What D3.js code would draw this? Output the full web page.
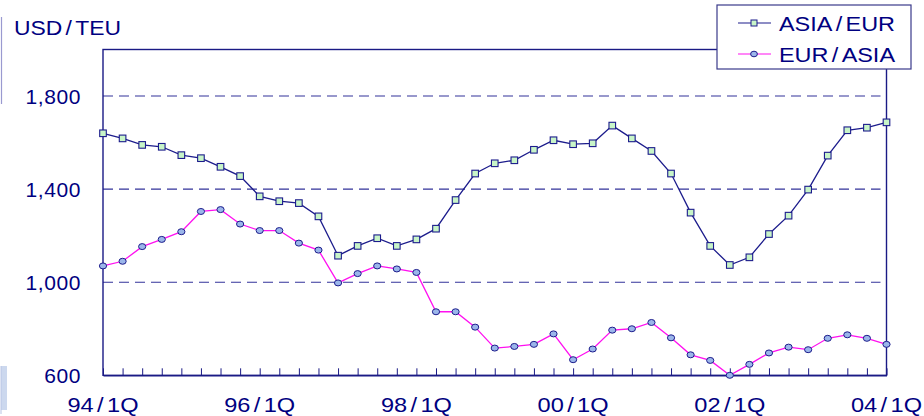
<!DOCTYPE html>
<html><head><meta charset="utf-8">
<script src="https://cdn.jsdelivr.net/npm/d3@7"></script>
<style>
html,body{margin:0;padding:0;background:#fff;}
svg{display:block;font-family:"Liberation Sans",Arial,sans-serif;}
</style></head>
<body><svg id="c" width="924" height="416"></svg>
<script>
const quarters = [
 "94/1Q","94/2Q","94/3Q","94/4Q","95/1Q","95/2Q","95/3Q","95/4Q",
 "96/1Q","96/2Q","96/3Q","96/4Q","97/1Q","97/2Q","97/3Q","97/4Q",
 "98/1Q","98/2Q","98/3Q","98/4Q","99/1Q","99/2Q","99/3Q","99/4Q",
 "00/1Q","00/2Q","00/3Q","00/4Q","01/1Q","01/2Q","01/3Q","01/4Q",
 "02/1Q","02/2Q","02/3Q","02/4Q","03/1Q","03/2Q","03/3Q","03/4Q",
 "04/1Q"];
const asiaEur = [1640,1618,1590,1582,1546,1533,1496,1456,1369,1348,1340,1283,
 1114,1156,1189,1156,1184,1230,1353,1467,1511,1524,1569,1610,1593,1597,1673,
 1618,1564,1467,1299,1156,1074,1107,1207,1286,1398,1544,1653,1664,1687];
const eurAsia = [1070,1090,1153,1184,1217,1304,1312,1250,1222,1222,1168,1138,
 997,1037,1070,1057,1042,873,873,807,717,724,733,778,667,713,794,800,827,761,
 688,664,600,647,696,721,710,759,774,759,733];
const xTickLabels = ["94/1Q","96/1Q","98/1Q","00/1Q","02/1Q","04/1Q"];
const yTicks = [600,1000,1400,1800];
const gridValues = [1000,1400,1800];
const seriesNames = ["ASIA/EUR","EUR/ASIA"];
const unitLabel = "USD/TEU";

const svg = d3.select("#c");
const navy = "#000080";
const L=103, R=886.5, T=49.5, B=375.3;
const x = d3.scalePoint().domain(quarters).range([L,R]);
const y = d3.scaleLinear().domain([600,2000]).range([B,T]);

// writes "A/B" as tspans with a little air around the slash, then stretches to width
function slashText(sel, str, width, gap){
  const parts = str.split("/");
  sel.text(null);
  sel.append("tspan").text(parts[0]);
  sel.append("tspan").attr("dx",gap).text("/");
  sel.append("tspan").attr("dx",gap).text(parts[1]);
  sel.attr("textLength",width).attr("lengthAdjust","spacingAndGlyphs");
}

// left decorations
svg.append("line").attr("x1",1.5).attr("x2",1.5).attr("y1",17).attr("y2",104)
  .attr("stroke","#9a9ad0").attr("stroke-width",1.2);
svg.append("rect").attr("x",1).attr("y",366).attr("width",6).attr("height",44).attr("fill","#ccd8ee");
svg.append("line").attr("x1",1).attr("x2",1).attr("y1",366).attr("y2",414).attr("stroke","#b8c4e4");

// gridlines
svg.append("g").selectAll("line").data(gridValues).join("line")
  .attr("x1",L).attr("x2",R-6).attr("y1",d=>y(d)).attr("y2",d=>y(d))
  .attr("stroke","#33339a").attr("stroke-width",1.1).attr("stroke-dasharray","10,6");

// frame
svg.append("rect").attr("x",L).attr("y",T).attr("width",R-L).attr("height",B-T)
  .attr("fill","none").attr("stroke","#1a1a85").attr("stroke-width",1.4);

// bottom axis with inward ticks
const xAxis = d3.axisBottom(x).tickSizeInner(-7).tickSizeOuter(0).tickFormat("");
const gx = svg.append("g").attr("transform",`translate(0,${B})`).call(xAxis);
gx.select(".domain").attr("stroke","#1a1a85").attr("stroke-width",1.4);
gx.selectAll(".tick line").attr("stroke","#1a1a85").attr("stroke-width",1);

// x labels
svg.append("g").selectAll("text").data(xTickLabels).join("text")
  .attr("x",d=>x(d)).attr("y",412).attr("text-anchor","middle")
  .attr("font-size",21).attr("fill",navy)
  .each(function(d){ slashText(d3.select(this), d, 71, 3); });

// y labels
svg.append("g").selectAll("text").data(yTicks).join("text")
  .attr("x",81).attr("y",d=>y(d)+8).attr("text-anchor","end")
  .attr("font-size",21).attr("fill",navy).attr("letter-spacing",0.6)
  .text(d=>d3.format(",")(d));

svg.append("text").attr("x",14).attr("y",35).attr("font-size",21).attr("fill",navy)
  .call(s=>slashText(s, unitLabel, 107, 3));

// lines
const line = d3.line().x((d,i)=>x(quarters[i])).y(d=>y(d));
svg.append("path").datum(asiaEur).attr("d",line).attr("fill","none")
  .attr("stroke","#1c1c8c").attr("stroke-width",1.3);
svg.append("path").datum(eurAsia).attr("d",line).attr("fill","none")
  .attr("stroke","#ff10f0").attr("stroke-width",1.3);

// markers
svg.append("g").selectAll("rect").data(asiaEur).join("rect")
  .attr("x",(d,i)=>x(quarters[i])-3.3).attr("y",d=>y(d)-3.3)
  .attr("width",6.6).attr("height",6.6)
  .attr("fill","#c8f5c8").attr("stroke","#1c1c8c").attr("stroke-width",1.1);
svg.append("g").selectAll("ellipse").data(eurAsia).join("ellipse")
  .attr("cx",(d,i)=>x(quarters[i])).attr("cy",d=>y(d)).attr("rx",3.6).attr("ry",3)
  .attr("fill","#9bb6ea").attr("stroke","#1c1c8c").attr("stroke-width",1);

// legend
const lg = svg.append("g");
lg.append("rect").attr("x",717).attr("y",5).attr("width",194).attr("height",64)
  .attr("fill","#fff").attr("stroke","#3a3a8a").attr("stroke-width",1.2);
const legY = [23,54];
lg.append("line").attr("x1",738).attr("x2",771).attr("y1",legY[0]).attr("y2",legY[0])
  .attr("stroke","#1c1c8c").attr("stroke-width",1.2);
lg.append("rect").attr("x",751).attr("y",legY[0]-3).attr("width",6).attr("height",6)
  .attr("fill","#c8f5c8").attr("stroke","#1c1c8c").attr("stroke-width",1);
lg.append("line").attr("x1",738).attr("x2",771).attr("y1",legY[1]).attr("y2",legY[1])
  .attr("stroke","#ff10f0").attr("stroke-width",1.2);
lg.append("ellipse").attr("cx",754).attr("cy",legY[1]).attr("rx",3.4).attr("ry",2.8)
  .attr("fill","#9bb6ea").attr("stroke","#1c1c8c").attr("stroke-width",1);
lg.selectAll("text.lab").data(seriesNames).join("text").attr("class","lab")
  .attr("x",779).attr("y",(d,i)=>legY[i]+7.5).attr("font-size",21).attr("fill",navy)
  .each(function(d){ slashText(d3.select(this), d, 116, 3); });
</script></body></html>
